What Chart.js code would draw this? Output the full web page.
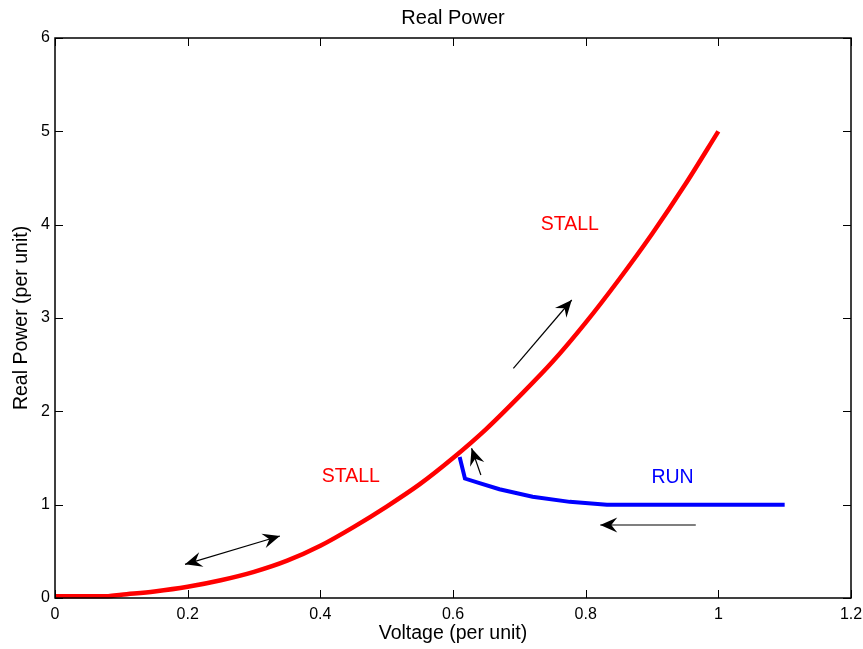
<!DOCTYPE html>
<html>
<head>
<meta charset="utf-8">
<script src="https://cdn.jsdelivr.net/npm/chart.js@4.4.1/dist/chart.umd.min.js"></script>
<style>
  html, body { margin: 0; padding: 0; background: #fff; }
  #wrap { width: 863px; height: 649px; }
</style>
</head>
<body>
<div id="wrap"><canvas id="powerChart"></canvas></div>
<script>
/* global Chart */

// stall branch (red)
const stallVoltage = [0, 0.05, 0.08, 0.1, 0.15, 0.2, 0.25, 0.3, 0.35, 0.4, 0.45, 0.5, 0.55, 0.6, 0.65, 0.7, 0.75, 0.8, 0.85, 0.9, 0.95, 1.0];
const stallPower = [0.02, 0.02, 0.02, 0.035, 0.07, 0.12, 0.19, 0.28, 0.4, 0.56, 0.76, 0.98, 1.22, 1.5, 1.81, 2.16, 2.53, 2.95, 3.41, 3.9, 4.43, 5.0];

// run branch (blue)
const runVoltage = [0.61, 0.618, 0.64, 0.67, 0.72, 0.776, 0.832, 0.9, 1.0, 1.1];
const runPower = [1.51, 1.28, 1.23, 1.165, 1.085, 1.03, 1.0, 1.0, 1.0, 1.0];

const xTicks = [0, 0.2, 0.4, 0.6, 0.8, 1, 1.2];
const yTicks = [0, 1, 2, 3, 4, 5, 6];

// arrows: from (x0, y0) to (x1, y1), double headed?
const arrowFrom = [[0.196, 0.361], [0.691, 2.461], [0.642, 1.318], [0.966, 0.782]];
const arrowTo = [[0.339, 0.664], [0.779, 3.193], [0.628, 1.604], [0.822, 0.782]];
const arrowBoth = [true, false, false, false];

// text notes
const noteText = ['STALL', 'STALL', 'RUN'];
const notePos = [[0.776, 4.0], [0.446, 1.30], [0.931, 1.293]];
const noteColor = ['#ff0000', '#ff0000', '#0000ff'];

const chartTitle = 'Real Power';

const FONT = "'Liberation Sans', Arial, Helvetica, sans-serif";

const toPoints = (xs, ys) => xs.map((x, i) => ({ x, y: ys[i] }));
const fmt = v => String(+Number(v).toFixed(1));

function drawHead(ctx, fx, fy, tx, ty) {
  const ang = Math.atan2(ty - fy, tx - fx);
  const len = 17, half = 7.5, notch = 11;
  ctx.save();
  ctx.translate(tx, ty);
  ctx.rotate(ang);
  ctx.beginPath();
  ctx.moveTo(0, 0);
  ctx.lineTo(-len, -half);
  ctx.lineTo(-notch, 0);
  ctx.lineTo(-len, half);
  ctx.closePath();
  ctx.fill();
  ctx.restore();
}

const extrasPlugin = {
  id: 'extras',
  afterDatasetsDraw(chart) {
    const { ctx, chartArea: a, scales: { x, y } } = chart;
    ctx.save();

    // box with inward ticks
    ctx.strokeStyle = '#000';
    ctx.lineWidth = 1.5;
    ctx.strokeRect(a.left, a.top, a.right - a.left, a.bottom - a.top);
    ctx.lineWidth = 1;
    const tl = 8;
    ctx.beginPath();
    xTicks.forEach(v => {
      const px = Math.round(x.getPixelForValue(v)) + 0.5;
      ctx.moveTo(px, a.bottom); ctx.lineTo(px, a.bottom - tl);
      ctx.moveTo(px, a.top); ctx.lineTo(px, a.top + tl);
    });
    yTicks.forEach(v => {
      const py = Math.round(y.getPixelForValue(v)) + 0.5;
      ctx.moveTo(a.left, py); ctx.lineTo(a.left + tl, py);
      ctx.moveTo(a.right, py); ctx.lineTo(a.right - tl, py);
    });
    ctx.stroke();

    // arrows
    ctx.strokeStyle = '#000';
    ctx.fillStyle = '#000';
    ctx.lineWidth = 1.2;
    arrowFrom.forEach((f, i) => {
      const fx = x.getPixelForValue(f[0]), fy = y.getPixelForValue(f[1]);
      const tx = x.getPixelForValue(arrowTo[i][0]), ty = y.getPixelForValue(arrowTo[i][1]);
      ctx.beginPath();
      ctx.moveTo(fx, fy);
      ctx.lineTo(tx, ty);
      ctx.stroke();
      drawHead(ctx, fx, fy, tx, ty);
      if (arrowBoth[i]) drawHead(ctx, tx, ty, fx, fy);
    });

    // notes
    ctx.font = '19.5px ' + FONT;
    ctx.textAlign = 'center';
    ctx.textBaseline = 'middle';
    noteText.forEach((t, i) => {
      ctx.fillStyle = noteColor[i];
      ctx.fillText(t, x.getPixelForValue(notePos[i][0]), y.getPixelForValue(notePos[i][1]));
    });

    // title, centred over the axes
    ctx.fillStyle = '#000';
    ctx.font = '20px ' + FONT;
    ctx.fillText(chartTitle, (a.left + a.right) / 2, 18.5);
    ctx.restore();
  }
};

new Chart(document.getElementById('powerChart'), {
  type: 'scatter',
  data: {
    datasets: [
      {
        label: 'Stall',
        data: toPoints(stallVoltage, stallPower),
        showLine: true,
        borderColor: '#ff0000',
        borderWidth: 4.5,
        pointRadius: 0,
        cubicInterpolationMode: 'monotone',
        clip: false,
      },
      {
        label: 'Run',
        data: toPoints(runVoltage, runPower),
        showLine: true,
        borderColor: '#0000ff',
        borderWidth: 4,
        pointRadius: 0,
        clip: false,
      }
    ]
  },
  options: {
    responsive: true,
    maintainAspectRatio: false,
    animation: false,
    layout: { padding: { top: 38, right: 12, left: 0, bottom: 0 } },
    plugins: {
      legend: { display: false },
      tooltip: { enabled: false },
      title: { display: false }
    },
    scales: {
      x: {
        type: 'linear',
        min: 0,
        max: 1.2,
        afterBuildTicks: s => { s.ticks = xTicks.map(v => ({ value: v })); },
        afterFit: s => { s.height = 51; s.paddingLeft = 0; s.paddingRight = 0; },
        grid: { display: false, drawTicks: false },
        border: { display: false },
        ticks: { color: '#000', padding: 7, font: { family: FONT, size: 16 }, maxRotation: 0, callback: fmt },
        title: {
          display: true,
          text: 'Voltage (per unit)',
          color: '#000',
          font: { family: FONT, size: 19.5, lineHeight: 1.2 },
          padding: { top: 0, bottom: 4 }
        }
      },
      y: {
        type: 'linear',
        min: 0,
        max: 6,
        afterBuildTicks: s => { s.ticks = yTicks.map(v => ({ value: v })); },
        afterFit: s => { s.width = 55; s.paddingTop = 0; s.paddingBottom = 0; },
        grid: { display: false, drawTicks: false },
        border: { display: false },
        ticks: { color: '#000', padding: 5, font: { family: FONT, size: 16 }, callback: fmt },
        title: {
          display: true,
          text: 'Real Power (per unit)',
          color: '#000',
          font: { family: FONT, size: 19.5, lineHeight: 1.2 },
          padding: { top: 10, bottom: 0 }
        }
      }
    }
  },
  plugins: [extrasPlugin]
});
</script>
</body>
</html>
